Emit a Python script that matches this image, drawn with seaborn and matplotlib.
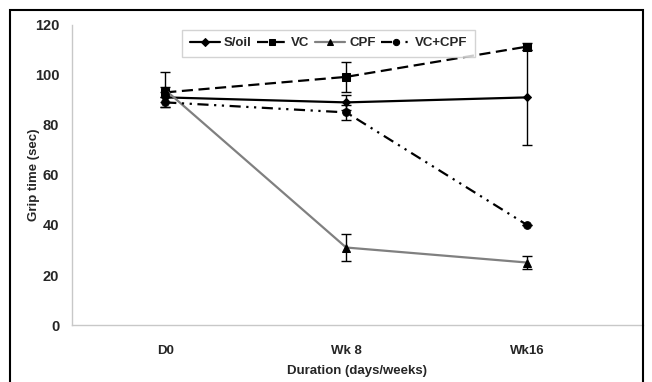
import matplotlib
matplotlib.use("Agg")
import pandas as pd
import seaborn as sns
import matplotlib.pyplot as plt
from matplotlib.patches import Rectangle

days = ['D0', 'Wk 8', 'Wk16']
groups = ['S/oil', 'VC', 'CPF', 'VC+CPF']

soil = [91, 89, 91]
vc = [93, 99.2, 111.3]
cpf = [94, 31, 25]
vccpf = [89, 85, 40]

soil_err = [2, 3, 19]
vc_err = [2, 6, 1.5]
cpf_err = [7, 5.5, 2.6]
vccpf_err = [2, 3, 0]

means = [soil, vc, cpf, vccpf]
errs = [soil_err, vc_err, cpf_err, vccpf_err]

rows = []
for g, m, e in zip(groups, means, errs):
    for i, d in enumerate(days):
        rows.append({'pos': i, 'day': d, 'group': g, 'value': m[i], 'err': e[i]})
df = pd.DataFrame(rows)

sns.set_style("white")
plt.rcParams['font.family'] = ['Liberation Sans', 'DejaVu Sans']
plt.rcParams['font.weight'] = 'bold'

fig = plt.figure(figsize=(6.52, 3.82), dpi=100)
ax = fig.add_axes([0.110, 0.149, 0.876, 0.786])

palette = {'S/oil': 'black', 'VC': 'black', 'CPF': '#808080', 'VC+CPF': 'black'}
markers = {'S/oil': 'D', 'VC': 's', 'CPF': '^', 'VC+CPF': 'o'}
dashes = {'S/oil': '', 'VC': (5, 2.5), 'CPF': '', 'VC+CPF': (5, 2.5, 1, 2.5, 1, 2.5)}

# error bars first so lines sit on top
for g in groups:
    sub = df[df.group == g]
    ax.errorbar(sub.pos, sub.value, yerr=sub.err, fmt='none', ecolor='black',
                elinewidth=1, capsize=3.5, capthick=1, zorder=2)

sns.lineplot(data=df, x='pos', y='value', hue='group', style='group',
             hue_order=groups, style_order=groups, palette=palette,
             markers=markers, dashes=dashes, markersize=5.5, linewidth=1.6,
             markeredgecolor='black', ax=ax, zorder=3)
for line in ax.lines:
    line.set_markerfacecolor('black')
    if line.get_marker() == 'D':
        line.set_markersize(4.5)

ax.set_xlim(-0.517, 2.64)
ax.set_ylim(0, 120)
ax.set_yticks(range(0, 121, 20))
ax.set_xticks(range(len(days)))
ax.set_xticklabels(days)
ax.set_xticks([0.5, 1.5], minor=True)
ax.tick_params(axis='x', which='major', length=0, pad=14, labelsize=9.5)
ax.tick_params(axis='x', which='minor', length=4, color='#c8c8c8', direction='out')
ax.tick_params(axis='y', length=5, color='#c8c8c8', direction='out', labelsize=10.5, pad=4)
for s in ['top', 'right']:
    ax.spines[s].set_visible(False)
for s in ['left', 'bottom']:
    ax.spines[s].set_color('#c8c8c8')
    ax.spines[s].set_linewidth(1)

ax.set_xlabel('Duration (days/weeks)', fontsize=9.5, fontweight='bold', labelpad=6)
ax.set_ylabel('Grip time (sec)', fontsize=9.5, fontweight='bold')
ax.yaxis.set_label_coords(-0.055, 0.5)

sns.move_legend(ax, 'upper center', bbox_to_anchor=(0.45, 1.005), ncol=4, title=None,
                frameon=True, fontsize=9.5, handlelength=2.3, columnspacing=0.4,
                handletextpad=0.3, borderpad=0.55, fancybox=False)
leg = ax.get_legend()
leg.get_frame().set_edgecolor('#c8c8c8')
for t in leg.get_texts():
    t.set_fontweight('bold')
for h in leg.legend_handles:
    h.set_markerfacecolor('black')
    h.set_markeredgecolor('black')
    h.set_markersize(4.5)

fig.patches.append(Rectangle((10 / 652, -0.05), 633 / 652, 1.05 - 10 / 382,
                             transform=fig.transFigure, fill=False,
                             edgecolor='black', linewidth=1.5))

fig.savefig('out.png', dpi=100)
